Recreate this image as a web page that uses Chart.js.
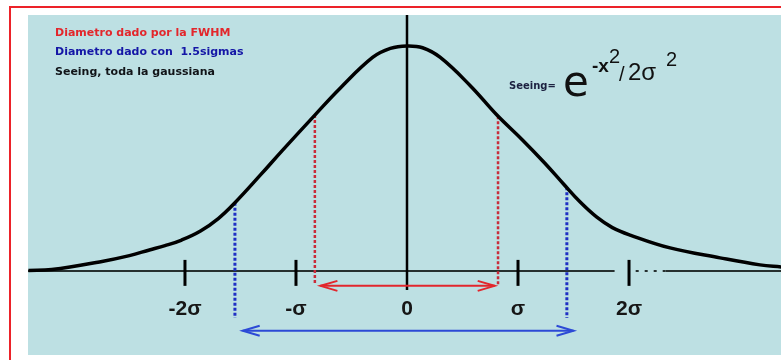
<!DOCTYPE html>
<html lang="es">
<head>
<meta charset="UTF-8">
<title>Seeing gaussiano</title>
<script src="https://cdn.jsdelivr.net/npm/chart.js"></script>
<style>
  body { margin: 0; background: #fff; }
  #wrap { width: 781px; height: 360px; }
</style>
</head>
<body>
<div id="wrap"><canvas id="seeing" width="781" height="360"></canvas></div>
<script>
// curva: x en sigmas, y relativa al maximo
const curveX = [-3.41, -3.20, -2.77, -2.50, -2.32, -2.18, -2.03, -1.86, -1.70, -1.55, -1.32, -1.12, -0.83, -0.60, -0.31, -0.15, 0,
                0.14, 0.30, 0.57, 0.81, 1.04, 1.24, 1.41, 1.56, 1.71, 1.85, 2.01, 2.37, 2.82, 3.18, 3.37];
const curveY = [0.002, 0.006, 0.040, 0.068, 0.093, 0.112, 0.137, 0.177, 0.232, 0.302, 0.425, 0.535, 0.690, 0.810, 0.945, 0.985, 0.996,
                0.988, 0.945, 0.820, 0.690, 0.580, 0.478, 0.385, 0.305, 0.238, 0.192, 0.159, 0.102, 0.058, 0.027, 0.018];

const tickValues = [-2, -1, 0, 1, 2];
const tickLabels = ['-2σ', '-σ', '0', 'σ', '2σ'];

// diametro FWHM (rojo) y 1.5 sigmas (azul)
const fwhmX = [-0.83, 0.82];
const fwhmTop = [0.69, 0.685];
const sigmaX = [-1.55, 1.44];
const sigmaTop = [0.302, 0.37];
const fwhmArrow = [-0.78, 0.79];
const sigmaArrow = [-1.48, 1.50];

const notes = ['Diametro dado por la FWHM', 'Diametro dado con  1.5sigmas', 'Seeing, toda la gaussiana'];
const noteColors = ['#e3262b', '#1416a6', '#111418'];

const RED = '#c92c3a';
const BLUE = '#1f2fc4';

function vline(x, top, bottom) {
    return [{ x: x, y: top }, { x: x, y: bottom }];
}

const datasets = [
    {
        data: curveX.map((x, i) => ({ x: x, y: curveY[i] })),
        borderColor: '#000', borderWidth: 3.5, tension: 0.4
    }
];
fwhmX.forEach((x, i) => datasets.push({
    data: vline(x, fwhmTop[i], -0.062), borderColor: RED, borderWidth: 2.5, borderDash: [3, 2]
}));
sigmaX.forEach((x, i) => datasets.push({
    data: vline(x, sigmaTop[i], -0.208), borderColor: BLUE, borderWidth: 3, borderDash: [3, 2]
}));
datasets.push({ data: [{ x: fwhmArrow[0], y: -0.066 }, { x: fwhmArrow[1], y: -0.066 }], borderColor: '#e2262c', borderWidth: 2 });
datasets.push({ data: [{ x: sigmaArrow[0], y: -0.265 }, { x: sigmaArrow[1], y: -0.265 }], borderColor: '#2c4ad6', borderWidth: 2 });

// fondo, ejes, flechas y textos
const drawing = {
    id: 'drawing',
    beforeDraw(chart) {
        const ctx = chart.ctx;
        const a = chart.chartArea;
        ctx.save();
        ctx.fillStyle = '#fff';
        ctx.fillRect(0, 0, chart.width, chart.height);
        ctx.fillStyle = '#ec2229';
        ctx.fillRect(9, 6, chart.width, 2);
        ctx.fillRect(9, 6, 2, chart.height);
        ctx.fillStyle = '#bde0e3';
        ctx.fillRect(a.left, a.top, a.right - a.left, a.bottom - a.top);
        ctx.restore();
    },
    beforeDatasetsDraw(chart) {
        const ctx = chart.ctx;
        const xs = chart.scales.x, ys = chart.scales.y;
        const a = chart.chartArea;
        const y0 = ys.getPixelForValue(0);
        ctx.save();
        // eje horizontal, con el tramo roto cerca de 2 sigma
        ctx.strokeStyle = '#26302f';
        ctx.lineWidth = 2;
        ctx.beginPath();
        ctx.moveTo(a.left, y0);
        ctx.lineTo(xs.getPixelForValue(1.87), y0);
        ctx.moveTo(xs.getPixelForValue(2.33), y0);
        ctx.lineTo(a.right, y0);
        ctx.stroke();
        ctx.setLineDash([3, 6]);
        ctx.beginPath();
        ctx.moveTo(xs.getPixelForValue(2.06), y0);
        ctx.lineTo(xs.getPixelForValue(2.33), y0);
        ctx.stroke();
        ctx.setLineDash([]);
        // eje vertical
        const x0 = xs.getPixelForValue(0);
        ctx.strokeStyle = '#000';
        ctx.lineWidth = 2.5;
        ctx.beginPath();
        ctx.moveTo(x0, a.top);
        ctx.lineTo(x0, ys.getPixelForValue(-0.084));
        ctx.stroke();
        // marcas
        ctx.lineWidth = 3;
        tickValues.forEach(v => {
            if (v === 0) return;
            const px = xs.getPixelForValue(v);
            ctx.beginPath();
            ctx.moveTo(px, ys.getPixelForValue(0.049));
            ctx.lineTo(px, ys.getPixelForValue(-0.066));
            ctx.stroke();
        });
        ctx.restore();
    },
    afterDraw(chart) {
        const ctx = chart.ctx;
        const xs = chart.scales.x, ys = chart.scales.y;
        ctx.save();
        // puntas de flecha
        function head(x, y, dir, color) {
            ctx.strokeStyle = color;
            ctx.lineWidth = 2;
            ctx.beginPath();
            ctx.moveTo(x + dir * 17, y - 5);
            ctx.lineTo(x, y);
            ctx.lineTo(x + dir * 17, y + 5);
            ctx.stroke();
        }
        const yr = ys.getPixelForValue(-0.066), yb = ys.getPixelForValue(-0.265);
        head(xs.getPixelForValue(fwhmArrow[0]), yr, 1, '#e2262c');
        head(xs.getPixelForValue(fwhmArrow[1]), yr, -1, '#e2262c');
        head(xs.getPixelForValue(sigmaArrow[0]), yb, 1, '#2c4ad6');
        head(xs.getPixelForValue(sigmaArrow[1]), yb, -1, '#2c4ad6');

        // etiquetas del eje
        ctx.fillStyle = '#161616';
        ctx.font = 'bold 21px "Liberation Sans"';
        ctx.textAlign = 'center';
        ctx.textBaseline = 'alphabetic';
        tickValues.forEach((v, i) => {
            ctx.fillText(tickLabels[i], xs.getPixelForValue(v), 315);
        });

        // notas arriba a la izquierda
        ctx.textAlign = 'left';
        ctx.textBaseline = 'middle';
        ctx.font = 'bold 11px "DejaVu Sans"';
        notes.forEach((t, i) => {
            ctx.fillStyle = noteColors[i];
            ctx.fillText(t, 55, 33 + i * 19.5);
        });

        // formula del seeing
        ctx.fillStyle = '#1c2140';
        ctx.font = 'bold 10px "DejaVu Sans"';
        ctx.fillText('Seeing=', 509, 86);
        ctx.fillStyle = '#111';
        ctx.textBaseline = 'alphabetic';
        ctx.font = '42px "DejaVu Sans"';
        ctx.fillText('e', 563, 96);
        ctx.font = 'bold 19px "Liberation Sans"';
        ctx.fillText('-x', 592, 72);
        ctx.font = '20px "Liberation Sans"';
        ctx.fillText('2', 609, 63);
        ctx.fillText('/', 619, 81);
        ctx.font = '24px "Liberation Sans"';
        ctx.fillText('2σ', 628, 80);
        ctx.font = '20px "Liberation Sans"';
        ctx.fillText('2', 666, 66);
        ctx.restore();
    }
};

new Chart(document.getElementById('seeing'), {
    type: 'scatter',
    data: { datasets: datasets.map(d => Object.assign({ showLine: true, pointRadius: 0, fill: false }, d)) },
    options: {
        responsive: false,
        animation: false,
        events: [],
        layout: { autoPadding: false, padding: { left: 28, top: 15, right: 0, bottom: 5 } },
        plugins: { legend: { display: false }, tooltip: { enabled: false } },
        scales: {
            x: { type: 'linear', min: -3.414, max: 3.369, display: false },
            y: { type: 'linear', min: -0.372, max: 1.133, display: false }
        }
    },
    plugins: [drawing]
});
</script>
</body>
</html>
